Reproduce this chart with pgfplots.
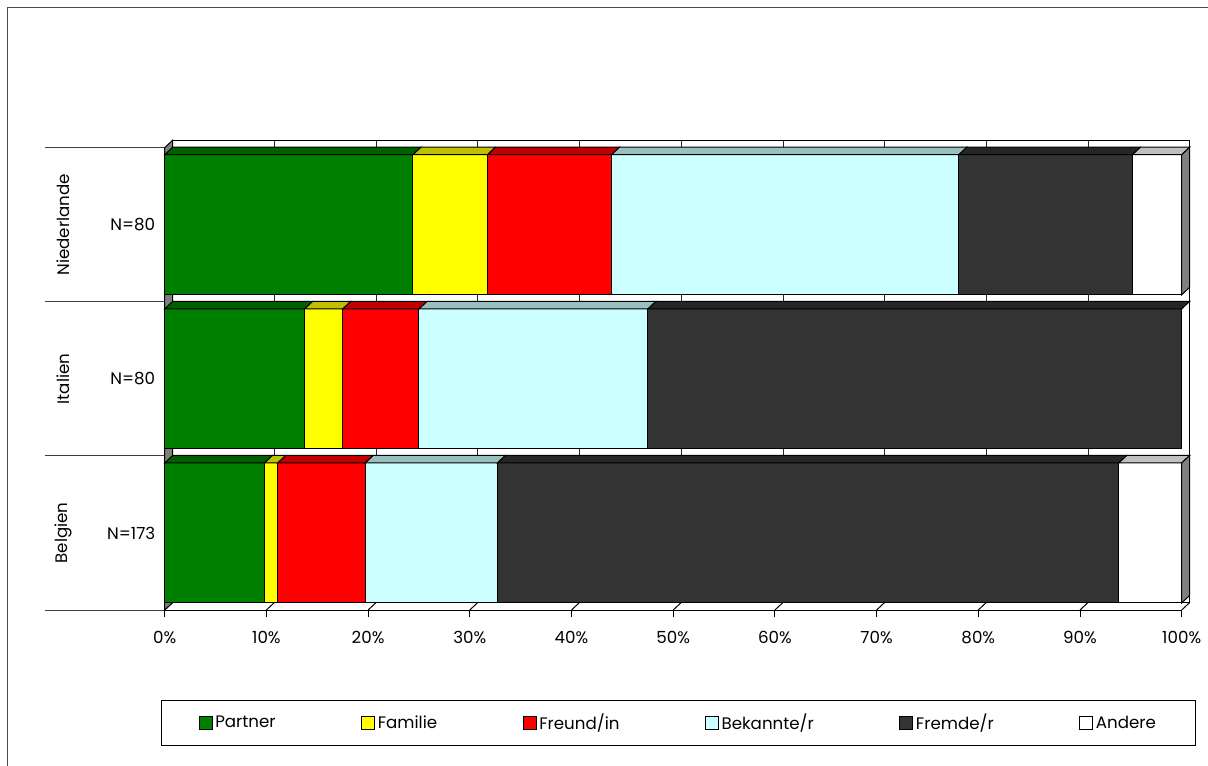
\documentclass[border=0pt]{standalone}
\usepackage{pgfplots}
\pgfplotsset{compat=1.18}
\usepackage{pgfplotstable}
\usepackage{fontspec}
\setmainfont{Poppins}

% front colours and the darker shades used on the top faces
\definecolor{cPartner}{HTML}{008000}\definecolor{tPartner}{HTML}{006000}
\definecolor{cFamilie}{HTML}{FFFF00}\definecolor{tFamilie}{HTML}{C0C000}
\definecolor{cFreund}{HTML}{FF0000}\definecolor{tFreund}{HTML}{C00000}
\definecolor{cBekannte}{HTML}{CCFFFF}\definecolor{tBekannte}{HTML}{99C0C0}
\definecolor{cFremde}{HTML}{333333}\definecolor{tFremde}{HTML}{262626}
\definecolor{cAndere}{HTML}{FFFFFF}\definecolor{tAndere}{HTML}{C0C0C0}
\definecolor{sideGray}{HTML}{808080}

% shares in percent; pos 0 = Belgien, 1 = Italien, 2 = Niederlande
\pgfplotstableread{
pos Partner Familie Freund Bekannte Fremde Andere
0   9.8     1.3     8.6    13.0     61.1   6.2
1   13.75   3.75    7.5    22.5     52.5   0
2   24.39   7.32    12.20  34.15    17.07  4.87
}\shares

% half width of the current segment in pt (7.6275pt per percent)
\newcommand\segwidth{%
  \begingroup
  \pgfkeys{/pgf/fpu=true,/pgf/fpu/output format=fixed}%
  \pgfmathparse{\segval*3.81375}%
  \xdef\segw{\pgfmathresult}%
  \endgroup}
% top face of one stacked segment, drawn around the segment's centre;
% bar half height 52.5pt, depth offset (6pt,5.625pt)
\newcommand\topface[1]{%
  \segwidth
  \tikz{\path[use as bounding box] (0pt,0pt);
    \filldraw[fill=#1,draw=black,line width=0.75pt]
      (\segw pt,52.5pt) -- (-\segw pt,52.5pt) -- ++(6pt,5.625pt)
      -- ([xshift=6pt,yshift=5.625pt]\segw pt,52.5pt) -- cycle;}}
% last segment: top face plus the grey side face of the bar
\newcommand\lastface[1]{%
  \segwidth
  \tikz{\path[use as bounding box] (0pt,0pt);
    \filldraw[fill=#1,draw=black,line width=0.75pt]
      (\segw pt,52.5pt) -- (-\segw pt,52.5pt) -- ++(6pt,5.625pt)
      -- ([xshift=6pt,yshift=5.625pt]\segw pt,52.5pt) -- cycle;
    \filldraw[fill=sideGray,draw=black,line width=0.75pt]
      (\segw pt,-52.5pt) -- ++(6pt,5.625pt) -- ++(0pt,105pt)
      -- (\segw pt,52.5pt) -- cycle;}}

\pgfplotsset{
  frame geom/.style={
    anchor=south west, scale only axis,
    width=762.75pt, height=346.725pt,
    xmin=0, xmax=100, ymin=-0.5, ymax=2.5,
  },
  seg/.style n args={2}{fill=#1, draw=black, line width=0.75pt,
    visualization depends on={rawx \as \segval},
    nodes near coords={\topface{#2}}},
  sq legend/.style={legend image code/.code={%
    \draw[##1] (0pt,-4.9pt) rectangle (9.8pt,4.9pt);}},
}

\begin{document}
\begin{tikzpicture}[font=\fontsize{12.5pt}{15pt}\selectfont]
\path[use as bounding box] (-123.525pt,-116.25pt) rectangle (782.475pt,457.5pt);
% chart area border
\draw[black!70, line width=0.75pt] (-117.525pt,-200pt) -- (-117.525pt,451.5pt) -- (900pt,451.5pt);

% back wall with its gridlines
\begin{axis}[frame geom, at={(6pt,5.625pt)},
  xtick={0,10,...,100}, xticklabels={}, ytick=\empty,
  xmajorgrids, grid style={black!85, line width=0.6pt},
  tick style={draw=none},
  axis line style={black, line width=0.75pt},
]
\end{axis}

% floor, left wall, ticks, labels and legend
\begin{axis}[frame geom, at={(0pt,0pt)},
  axis x line*=bottom, axis y line*=left,
  axis line style={black, line width=0.75pt, -},
  xtick={0,10,...,100},
  xticklabel={\pgfmathprintnumber{\tick}\%},
  /pgf/number format/assume math mode=true,
  xticklabel style={yshift=-7pt},
  tick align=outside, major tick length=5.6pt,
  xtick style={black, line width=0.75pt},
  ytick={0,1,2}, yticklabels={N=173,N=80,N=80},
  ytick style={draw=none},
  yticklabel style={xshift=2pt},
  extra y ticks={0,1,2}, extra y tick labels={Belgien,Italien,Niederlande},
  extra y tick style={major tick length=0pt,
    yticklabel style={xshift=-78pt, rotate=90, anchor=center}},
  clip=false,
  legend columns=6,
  legend style={at={(0.5053,-0.2444)}, anchor=center, draw=black,
    line width=0.75pt, inner xsep=28pt, inner ysep=8pt,
    /tikz/every even column/.append style={column sep=62pt}},
]
\pgfplotsinvokeforeach{-0.5,0.5,1.5,2.5}{
  \draw[black!75, line width=0.75pt] (axis cs:0,#1) -- ++(-90pt,0pt);}
\pgfplotsinvokeforeach{0,10,...,100}{
  \draw[black, line width=0.75pt] (axis cs:#1,-0.5) -- ++(6pt,5.625pt);}
\filldraw[fill=sideGray, draw=black, line width=0.75pt]
  (axis cs:0,-0.5) -- (axis cs:0,2.5) -- ++(6pt,5.625pt) -- ++(0pt,-346.725pt) -- cycle;
\addlegendimage{sq legend, fill=cPartner, draw=black}
\addlegendimage{sq legend, fill=cFamilie, draw=black}
\addlegendimage{sq legend, fill=cFreund, draw=black}
\addlegendimage{sq legend, fill=cBekannte, draw=black}
\addlegendimage{sq legend, fill=cFremde, draw=black}
\addlegendimage{sq legend, fill=cAndere, draw=black}
\legend{Partner, Familie, Freund/in, Bekannte/r, Fremde/r, Andere}
\end{axis}

% the stacked bars (front faces; top faces from each segment's centre)
\begin{axis}[frame geom, at={(0pt,0pt)},
  xbar stacked, bar width=105pt,
  hide axis, clip=false,
  every node near coord/.append style={inner sep=0pt, outer sep=0pt, anchor=center},
]
\addplot[seg={cPartner}{tPartner}] table[x=Partner,y=pos]{\shares};
\addplot[seg={cFamilie}{tFamilie}] table[x=Familie,y=pos]{\shares};
\addplot[seg={cFreund}{tFreund}] table[x=Freund,y=pos]{\shares};
\addplot[seg={cBekannte}{tBekannte}] table[x=Bekannte,y=pos]{\shares};
\addplot[seg={cFremde}{tFremde}] table[x=Fremde,y=pos]{\shares};
\addplot[seg={cAndere}{tAndere}, nodes near coords={\lastface{tAndere}}]
  table[x=Andere,y=pos]{\shares};
\end{axis}
\end{tikzpicture}
\end{document}
